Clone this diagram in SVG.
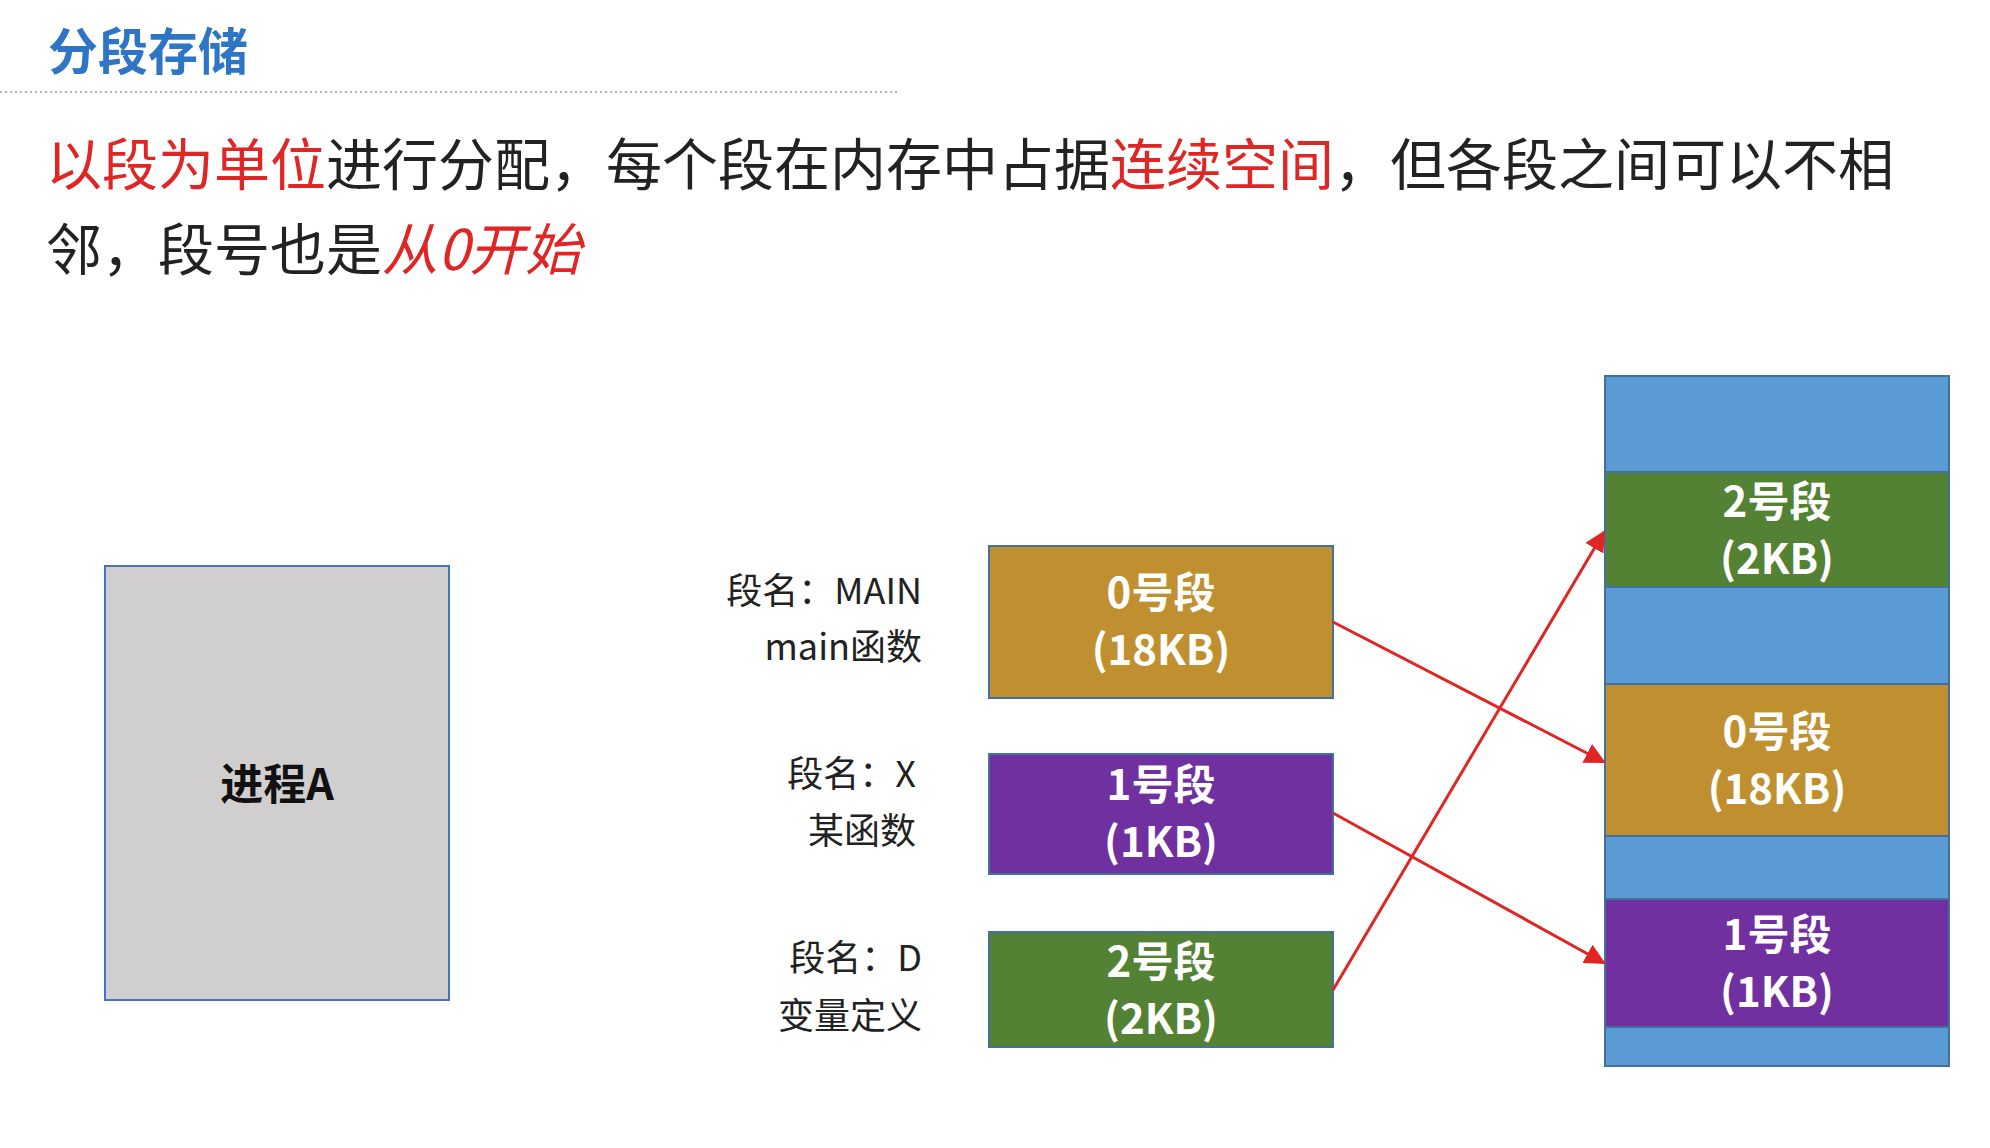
<svg xmlns="http://www.w3.org/2000/svg" width="1990" height="1148" viewBox="0 0 1990 1148">
<defs>
<style>
.t{font-family:"Noto Sans CJK SC","Liberation Sans",sans-serif}
.seg{font-family:"Noto Sans CJK SC","Liberation Sans",sans-serif;font-weight:bold;font-size:42px;fill:#fff;text-anchor:middle}
.lbl{font-family:"Noto Sans CJK SC","Liberation Sans",sans-serif;font-size:36px;fill:#222;text-anchor:end}
.box{stroke:#41719C;stroke-width:2}
.red{fill:#E02525}
</style>
<marker id="ah" viewBox="0 0 10 10" refX="9" refY="5" markerWidth="7" markerHeight="7" orient="auto"><path d="M0,0L10,5L0,10z" fill="#E02525"/></marker>
</defs>
<rect width="1990" height="1148" fill="#fff"/>
<text class="t" x="48" y="70" font-size="50" font-weight="bold" fill="#2E75C6">分段存储</text>
<line x1="0" y1="92" x2="897" y2="92" stroke="#999" stroke-width="1.5" stroke-dasharray="2,3"/>
<text class="t" x="46" y="185" font-size="56" fill="#222"><tspan class="red">以段为单位</tspan>进行分配，每个段在内存中占据<tspan class="red">连续空间</tspan>，但各段之间可以不相</text>
<text class="t" x="46" y="270" font-size="56" fill="#222">邻，段号也是<tspan class="red" font-style="italic">从0开始</tspan></text>
<g id="procA"><rect x="105" y="566" width="344" height="434" fill="#D0CECE" stroke="#4472C4" stroke-width="2"/><text class="t" x="277" y="800" font-size="43" font-weight="bold" text-anchor="middle" fill="#111">进程A</text></g>
<g id="lbl0"><text class="lbl" x="922" y="604">段名：MAIN</text><text class="lbl" x="922" y="660">main函数</text></g>
<g id="lbl1"><text class="lbl" x="916" y="787">段名：X</text><text class="lbl" x="916" y="844">某函数</text></g>
<g id="lbl2"><text class="lbl" x="922" y="971">段名：D</text><text class="lbl" x="922" y="1029">变量定义</text></g>
<g id="seg0"><rect class="box" x="989" y="546" width="344" height="152" fill="#C09030"/><text class="seg" x="1161" y="608">0号段</text><text class="seg" x="1161" y="665">(18KB)</text></g>
<g id="seg1"><rect class="box" x="989" y="754" width="344" height="120" fill="#7030A0"/><text class="seg" x="1161" y="800">1号段</text><text class="seg" x="1161" y="857">(1KB)</text></g>
<g id="seg2"><rect class="box" x="989" y="932" width="344" height="115" fill="#548235"/><text class="seg" x="1161" y="977">2号段</text><text class="seg" x="1161" y="1034">(2KB)</text></g>
<g id="memory"><rect class="box" x="1605" y="376" width="344" height="690" fill="#5B9BD5"/></g>
<g id="m2"><rect class="box" x="1605" y="472" width="344" height="115" fill="#548235"/><text class="seg" x="1777" y="517">2号段</text><text class="seg" x="1777" y="574">(2KB)</text></g>
<g id="m0"><rect class="box" x="1605" y="684" width="344" height="152" fill="#C09030"/><text class="seg" x="1777" y="747">0号段</text><text class="seg" x="1777" y="804">(18KB)</text></g>
<g id="m1"><rect class="box" x="1605" y="899" width="344" height="128" fill="#7030A0"/><text class="seg" x="1777" y="950">1号段</text><text class="seg" x="1777" y="1007">(1KB)</text></g>
<g id="connectors" stroke="#E02525" stroke-width="3" fill="none" marker-end="url(#ah)">
<line x1="1333" y1="622" x2="1604" y2="762"/>
<line x1="1333" y1="813" x2="1604" y2="963"/>
<line x1="1333" y1="990" x2="1604" y2="532"/>
</g>
</svg>
